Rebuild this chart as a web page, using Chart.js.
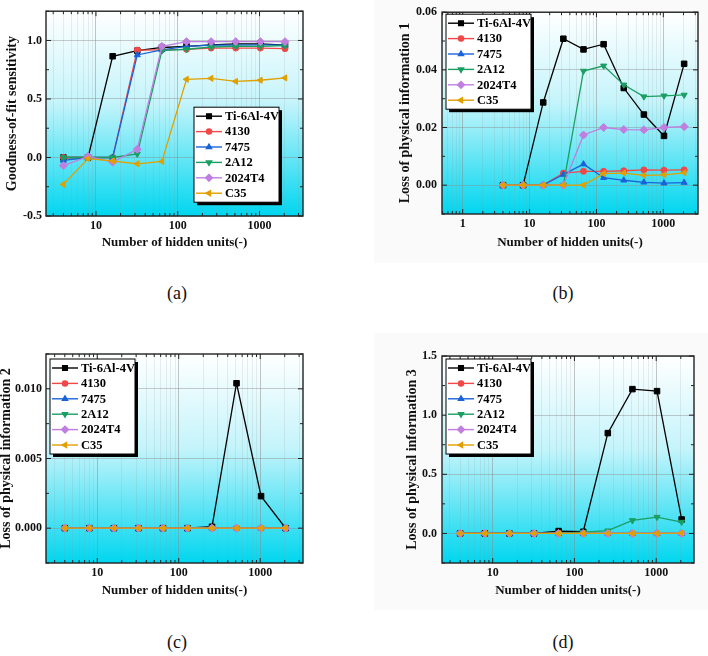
<!DOCTYPE html>
<html>
<head>
<meta charset="utf-8">
<script src="https://cdn.jsdelivr.net/npm/chart.js@4.4.1/dist/chart.umd.min.js"></script>
<style>
  body { margin: 0; width: 708px; height: 656px; background: #fff; position: relative; overflow: hidden; }
  .pane { position: absolute; }
  .shade { position: absolute; background: #fafafa; }
  .cap { position: absolute; font: 18px "Liberation Serif"; color: #111; transform: translate(-50%, -50%); }
</style>
</head>
<body>
<div class="shade" style="left:374px;top:0;width:334px;height:263px"></div>
<div class="shade" style="left:374px;top:333px;width:334px;height:277px"></div>
<div class="pane" style="left:0;top:0;width:354px;height:256px"><canvas id="chartA"></canvas></div>
<div class="pane" style="left:354px;top:0;width:354px;height:254px"><canvas id="chartB"></canvas></div>
<div class="pane" style="left:0;top:320px;width:354px;height:283px"><canvas id="chartC"></canvas></div>
<div class="pane" style="left:354px;top:320px;width:354px;height:283px"><canvas id="chartD"></canvas></div>
<div class="cap" style="left:177px;top:293px">(a)</div>
<div class="cap" style="left:563px;top:293px">(b)</div>
<div class="cap" style="left:177px;top:642px">(c)</div>
<div class="cap" style="left:563px;top:642px">(d)</div>
<script>
// x values
const hiddenUnits = [4, 8, 16, 32, 64, 128, 256, 512, 1024, 2048];
const materials = ['Ti-6Al-4V', '4130', '7475', '2A12', '2024T4', 'C35'];

// (a) goodness-of-fit sensitivity
const fitTi   = [0, 0, 0.865, 0.913, 0.94, 0.95, 0.963, 0.97, 0.97, 0.96];
const fit4130 = [0, 0, 0, 0.918, 0.92, 0.924, 0.935, 0.935, 0.935, 0.93];
const fit7475 = [-0.025, 0, 0, 0.876, 0.92, 0.95, 0.96, 0.96, 0.962, 0.96];
const fit2A12 = [0, 0, 0, 0.03, 0.913, 0.925, 0.944, 0.95, 0.95, 0.955];
const fit2024 = [-0.07, 0.01, -0.04, 0.07, 0.95, 0.99, 0.99, 0.99, 0.99, 0.99];
const fitC35  = [-0.23, -0.01, -0.03, -0.054, -0.034, 0.668, 0.676, 0.65, 0.66, 0.68];

// (b) loss of physical information 1
const loss1Ti   = [0, 0, 0.0287, 0.0508, 0.0471, 0.0489, 0.0337, 0.0245, 0.0171, 0.0421];
const loss14130 = [0, 0, 0, 0.0042, 0.0048, 0.0048, 0.005, 0.0053, 0.0052, 0.0053];
const loss17475 = [0, 0, 0, 0.0037, 0.0073, 0.0026, 0.0017, 0.001, 0.0007, 0.0009];
const loss12A12 = [0, 0, 0, 0, 0.0396, 0.0414, 0.0348, 0.0307, 0.031, 0.0313];
const loss12024 = [0, 0, 0, 0, 0.0174, 0.02, 0.0193, 0.0192, 0.02, 0.0203];
const loss1C35  = [0, 0, 0, 0, 0, 0.004, 0.0042, 0.0034, 0.0036, 0.0043];

// (c) loss of physical information 2
const loss2Ti   = [0, 0, 0, 0, 0, 0, 0.0001, 0.0104, 0.0023, 0];
const loss24130 = [0, 0, 0, 0, 0, 0, 0, 0, 0, 0];
const loss27475 = [0, 0, 0, 0, 0, 0, 0, 0, 0, 0];
const loss22A12 = [0, 0, 0, 0, 0, 0, 0, 0, 0, 0];
const loss22024 = [0, 0, 0, 0, 0, 0, 0, 0, 0, 0];
const loss2C35  = [0, 0, 0, 0, 0, 0, 0, 0, 0, 0];

// (d) loss of physical information 3
const loss3Ti   = [0, 0, 0, 0, 0.02, 0.014, 0.848, 1.22, 1.203, 0.118];
const loss34130 = [0, 0, 0, 0, 0, 0, 0, 0, 0, 0];
const loss37475 = [0, 0, 0, 0, 0, 0, 0, 0, 0, 0];
const loss32A12 = [0, 0, 0, 0, 0.003, 0.011, 0.023, 0.11, 0.138, 0.096];
const loss32024 = [0, 0, 0, 0, 0, 0, 0, 0, 0, 0];
const loss3C35  = [0, 0, 0, 0, 0, 0, 0, 0, 0, 0.003];

// styles
const lineColors = ['#000000', '#f04848', '#1a62d8', '#1a9e62', '#c07ee0', '#e0a000'];
const markerShapes = ['rect', 'circle', 'triangle', 'triangle', 'rectRot', 'triangle'];
const markerTurns = [0, 0, 0, 180, 0, -90];
const markerSizes = [3.9, 3.0, 3.5, 3.5, 4.0, 3.5];

const serif = 'Liberation Serif';

function isDecade(v) {
  const l = Math.log10(v);
  return Math.abs(l - Math.round(l)) < 1e-9;
}

function logTicks(min, max) {
  const out = [];
  for (let e = Math.floor(Math.log10(min)); Math.pow(10, e) <= max; e++) {
    const d = Math.pow(10, e);
    for (let k = 1; k <= 9; k++) {
      const v = k * d;
      if (v > min && v < max) out.push({ value: v, major: k === 1 });
    }
  }
  return out;
}

const panelPlugin = {
  id: 'panel',
  beforeDraw(chart) {
    const { ctx, chartArea: a } = chart;
    const g = ctx.createLinearGradient(0, a.top, 0, a.bottom);
    g.addColorStop(0, '#ffffff');
    g.addColorStop(0.45, '#c4f4fb');
    g.addColorStop(1, '#00d6ef');
    ctx.save();
    ctx.fillStyle = g;
    ctx.fillRect(a.left, a.top, a.width, a.height);
    ctx.restore();
  },
  afterDraw(chart, args, opts) {
    const { ctx, chartArea: a } = chart;
    const xs = chart.scales.x, ys = chart.scales.y;
    ctx.save();
    // frame
    ctx.strokeStyle = '#222';
    ctx.lineWidth = 1.4;
    ctx.strokeRect(a.left, a.top, a.width, a.height);
    // inward ticks
    ctx.lineWidth = 1;
    ctx.beginPath();
    xs.ticks.forEach(t => {
      const px = xs.getPixelForValue(t.value);
      const len = t.major ? 5 : 3;
      ctx.moveTo(px, a.bottom); ctx.lineTo(px, a.bottom - len);
      ctx.moveTo(px, a.top); ctx.lineTo(px, a.top + len);
    });
    ys.ticks.forEach(t => {
      const py = ys.getPixelForValue(t.value);
      const len = opts.yMajor(t.value) ? 5 : 3;
      ctx.moveTo(a.left, py); ctx.lineTo(a.left + len, py);
      ctx.moveTo(a.right, py); ctx.lineTo(a.right - len, py);
    });
    ctx.stroke();

    // legend box with drop shadow
    const bx = a.left + opts.legendX, by = a.top + opts.legendY;
    const bw = 85, bh = 95, row = 15.4;
    ctx.fillStyle = '#000';
    ctx.fillRect(bx + 3, by + 3, bw, bh);
    ctx.fillStyle = '#fff';
    ctx.fillRect(bx, by, bw, bh);
    ctx.strokeStyle = '#000';
    ctx.lineWidth = 1;
    ctx.strokeRect(bx, by, bw, bh);
    ctx.font = 'bold 12.5px "' + serif + '"';
    ctx.textBaseline = 'middle';
    chart.data.datasets.forEach((ds, i) => {
      const y = by + 9 + i * row;
      ctx.strokeStyle = ds.borderColor;
      ctx.lineWidth = 1.4;
      ctx.beginPath();
      ctx.moveTo(bx + 2, y); ctx.lineTo(bx + 28, y);
      ctx.stroke();
      ctx.fillStyle = ds.borderColor;
      Chart.helpers.drawPoint(ctx, {
        pointStyle: ds.pointStyle, rotation: ds.pointRotation,
        radius: ds.pointRadius * 0.85, borderWidth: 1
      }, bx + 15, y);
      ctx.fillStyle = '#000';
      ctx.fillText(ds.label, bx + 31, y + 0.5);
    });
    ctx.restore();
  }
};

function makeChart(id, series, p) {
  const yMajor = v => Math.abs(v / p.yLabelStep - Math.round(v / p.yLabelStep)) < 1e-6;
  const datasets = series.map((vals, i) => ({
    label: materials[i],
    data: hiddenUnits.map((x, j) => ({ x: x, y: vals[j] })),
    borderColor: lineColors[i],
    backgroundColor: lineColors[i],
    pointBackgroundColor: lineColors[i],
    pointBorderColor: lineColors[i],
    pointStyle: markerShapes[i],
    pointRotation: markerTurns[i],
    pointRadius: markerSizes[i],
    pointBorderWidth: 1,
    borderWidth: 1.3,
    tension: 0,
    order: series.length - i
  }));
  return new Chart(document.getElementById(id), {
    type: 'line',
    data: { datasets },
    plugins: [panelPlugin],
    options: {
      responsive: true,
      maintainAspectRatio: false,
      animation: false,
      layout: { padding: { top: p.padTop, right: p.padRight, left: p.padLeft, bottom: 0 } },
      plugins: {
        legend: { display: false },
        tooltip: { enabled: false },
        panel: { legendX: p.legendX, legendY: p.legendY, yMajor: yMajor }
      },
      scales: {
        x: {
          type: 'logarithmic',
          min: p.xMin, max: p.xMax,
          afterBuildTicks: s => { s.ticks = logTicks(p.xMin, p.xMax); },
          afterFit: s => { s.height = 40; },
          border: { display: false },
          grid: {
            drawTicks: false,
            color: c => (c.tick && isDecade(c.tick.value)) ? 'rgba(140,140,140,0.5)' : 'rgba(150,150,150,0.17)',
            lineWidth: 1
          },
          ticks: {
            autoSkip: false, maxRotation: 0, padding: 3,
            color: '#111', font: { family: serif, size: 12, weight: 'bold' },
            callback: v => isDecade(v) ? String(Math.round(v * 1000) / 1000) : ''
          },
          title: {
            display: true, text: 'Number of hidden units(-)', color: '#111',
            font: { family: serif, size: 13, weight: 'bold' },
            padding: { top: 0, bottom: p.xTitlePad }
          }
        },
        y: {
          min: p.yMin, max: p.yMax,
          afterFit: s => { s.width = p.yWidth; },
          border: { display: false },
          grid: {
            drawTicks: false,
            color: c => (c.tick && yMajor(c.tick.value)) ? 'rgba(140,140,140,0.45)' : 'rgba(0,0,0,0)',
            lineWidth: 1
          },
          ticks: {
            stepSize: p.yStep, autoSkip: false, padding: p.yTickPad,
            color: '#111', font: { family: serif, size: 12, weight: 'bold' },
            callback: v => {
              if (!yMajor(v)) return '';
              const r = Math.abs(v) < 1e-12 ? 0 : v;
              return r.toFixed(p.yDigits);
            }
          },
          title: {
            display: true, text: p.yTitle, color: '#111',
            font: { family: serif, size: 14, weight: 'bold' },
            padding: { top: p.yTitlePad, bottom: 0 }
          }
        }
      }
    }
  });
}

makeChart('chartA', [fitTi, fit4130, fit7475, fit2A12, fit2024, fitC35], {
  xMin: 2.45, xMax: 3400, yMin: -0.5, yMax: 1.25, yStep: 0.25, yLabelStep: 0.5, yDigits: 1,
  yTitle: 'Goodness-of-fit sensitivity',
  padTop: 7, padRight: 51, padLeft: 0, yWidth: 46, yTickPad: 4, yTitlePad: 4, xTitlePad: 6,
  legendX: 148, legendY: 96
});

makeChart('chartB', [loss1Ti, loss14130, loss17475, loss12A12, loss12024, loss1C35], {
  xMin: 0.49, xMax: 3300, yMin: -0.01, yMax: 0.06, yStep: 0.01, yLabelStep: 0.02, yDigits: 2,
  yTitle: 'Loss of physical information 1',
  padTop: 7, padRight: 10, padLeft: 39, yWidth: 49, yTickPad: 5, yTitlePad: 4, xTitlePad: 4,
  legendX: 4, legendY: 2
});

makeChart('chartC', [loss2Ti, loss24130, loss27475, loss22A12, loss22024, loss2C35], {
  xMin: 2.35, xMax: 3350, yMin: -0.0025, yMax: 0.0125, yStep: 0.0025, yLabelStep: 0.005, yDigits: 3,
  yTitle: 'Loss of physical information 2',
  padTop: 34, padRight: 51, padLeft: 0, yWidth: 46, yTickPad: 4, yTitlePad: -2, xTitlePad: 4.5,
  legendX: 4, legendY: 5
});

makeChart('chartD', [loss3Ti, loss34130, loss37475, loss32A12, loss32024, loss3C35], {
  xMin: 2.4, xMax: 2900, yMin: -0.25, yMax: 1.5, yStep: 0.25, yLabelStep: 0.5, yDigits: 1,
  yTitle: 'Loss of physical information 3',
  padTop: 36, padRight: 14, padLeft: 46, yWidth: 42, yTickPad: 5, yTitlePad: 4, xTitlePad: 4.5,
  legendX: 4, legendY: 3
});
</script>
</body>
</html>
